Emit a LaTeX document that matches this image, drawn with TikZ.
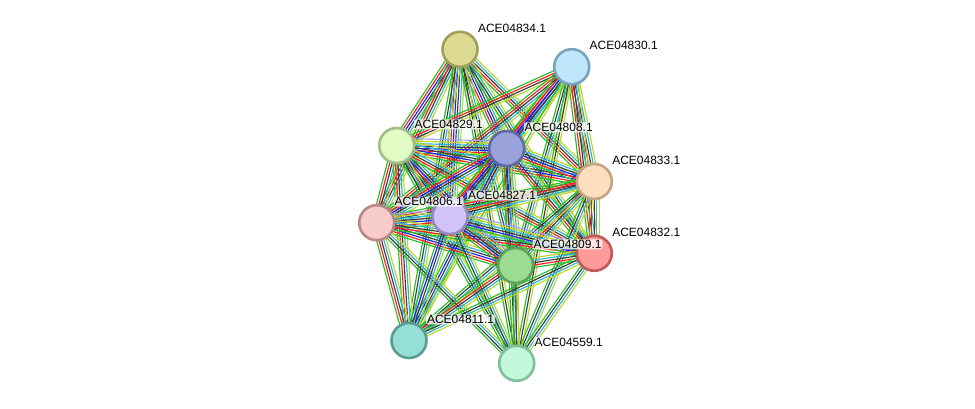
\documentclass[tikz,border=0pt]{standalone}
\usepackage{fontspec}
\setmainfont{Liberation Sans}
\usetikzlibrary{calc,backgrounds}
\pgfdeclarelayer{foreground}
\pgfsetlayers{background,main,foreground}
\definecolor{eG}{RGB}{40,190,40}
\definecolor{eR}{RGB}{250,30,30}
\definecolor{eB}{RGB}{30,30,250}
\definecolor{eK}{RGB}{60,60,60}
\definecolor{eC}{RGB}{45,180,215}
\definecolor{eY}{RGB}{190,214,40}
\definecolor{eL}{RGB}{170,160,240}
\definecolor{f34}{RGB}{221,219,146}\definecolor{d34}{RGB}{160,160,90}
\definecolor{f30}{RGB}{191,230,250}\definecolor{d30}{RGB}{120,164,192}
\definecolor{f29}{RGB}{224,252,196}\definecolor{d29}{RGB}{163,190,134}
\definecolor{f08}{RGB}{154,162,220}\definecolor{d08}{RGB}{95,105,163}
\definecolor{f33}{RGB}{253,223,192}\definecolor{d33}{RGB}{196,164,130}
\definecolor{f06}{RGB}{248,203,203}\definecolor{d06}{RGB}{186,134,134}
\definecolor{f27}{RGB}{209,195,248}\definecolor{d27}{RGB}{150,137,195}
\definecolor{f32}{RGB}{253,154,154}\definecolor{d32}{RGB}{192,90,90}
\definecolor{f09}{RGB}{154,220,145}\definecolor{d09}{RGB}{95,160,90}
\definecolor{f11}{RGB}{150,223,214}\definecolor{d11}{RGB}{90,156,148}
\definecolor{f59}{RGB}{195,248,219}\definecolor{d59}{RGB}{128,192,155}
\tikzset{
  prot/.style={circle, minimum size=35pt, inner sep=0pt, line width=2.6pt},
  lbl/.style={anchor=base west, inner sep=0.8pt, rounded corners=2pt,
    fill=white, fill opacity=0.75, text opacity=1,
    font=\fontsize{12pt}{14pt}\selectfont},
  evline/.style={line width=1.15pt}
}
\newcommand\sedge[3]{%
  \xdef\nn{0}%
  \foreach \c in {#3}{\xdef\nn{\the\numexpr\nn+1\relax}}%
  \foreach \c [count=\i] in {#3}{%
    \pgfmathsetmacro\off{(\i-(\nn+1)/2)*2.4}%
    \draw[evline, draw=\c] ($(#1.center)!\off pt!90:(#2.center)$) -- ($(#2.center)!\off pt!-90:(#1.center)$);
  }}
\newcommand\prot[3]{%
  \node[prot, fill=f#1, draw=d#1] (n#1) at (#2) {};
  \begin{pgfonlayer}{foreground}
  \node[lbl] (l#1) at ($(n#1.center)+(17,-17)$) {#3};
  \end{pgfonlayer}
}
\begin{document}
\begin{tikzpicture}[x=1pt,y=-1pt]
\useasboundingbox (0,0) rectangle (975,409);
\prot{34}{460,49.3}{ACE04834.1}
\prot{30}{571.7,66.7}{ACE04830.1}
\prot{29}{396.7,145.5}{ACE04829.1}
\prot{08}{506.7,148.5}{ACE04808.1}
\prot{33}{594.3,181.5}{ACE04833.1}
\prot{06}{376.7,222.7}{ACE04806.1}
\prot{27}{450,216.5}{ACE04827.1}
\prot{32}{594.3,253.3}{ACE04832.1}
\prot{09}{515.5,265.5}{ACE04809.1}
\prot{11}{409,340.5}{ACE04811.1}
\prot{59}{516.7,363.3}{ACE04559.1}
\begin{pgfonlayer}{background}
\fill[white] (0,0) rectangle (975,409);
\sedge{n34}{n29}{eG,eR,eB,eK,eC,eY}
\sedge{n34}{n08}{eG,eR,eB,eK,eC,eY}
\sedge{n34}{n33}{eG,eR,eK,eC,eY}
\sedge{n34}{n06}{eG,eR,eK,eC,eY}
\sedge{n34}{n27}{eG,eR,eB,eK,eC,eY}
\sedge{n34}{n09}{eG,eK,eC,eY}
\sedge{n34}{n32}{eG,eK,eC,eY}
\sedge{n34}{n11}{eG,eK,eC,eY}
\sedge{n34}{n59}{eG,eK,eY}
\sedge{n30}{n29}{eG,eR,eK,eY}
\sedge{n30}{n08}{eG,eR,eB,eK,eC,eY}
\sedge{n30}{n33}{eG,eR,eK,eC,eY}
\sedge{n30}{n06}{eG,eR,eK,eC,eY}
\sedge{n30}{n27}{eG,eR,eB,eK,eC,eY}
\sedge{n30}{n09}{eG,eK,eC,eY}
\sedge{n30}{n32}{eG,eR,eK,eC,eY}
\sedge{n30}{n11}{eG,eY}
\sedge{n30}{n59}{eG,eK,eY}
\sedge{n29}{n08}{eG,eR,eB,eK,eC,eY,eL}
\sedge{n29}{n33}{eG,eR,eB,eK,eC,eY}
\sedge{n29}{n06}{eG,eR,eK,eC,eY}
\sedge{n29}{n27}{eG,eR,eB,eK,eC,eY}
\sedge{n29}{n09}{eG,eR,eB,eK,eC,eY}
\sedge{n29}{n32}{eG,eR,eK,eC,eY}
\sedge{n29}{n11}{eG,eR,eK,eC,eY}
\sedge{n29}{n59}{eG,eK,eC,eY}
\sedge{n08}{n33}{eG,eR,eB,eK,eC,eY}
\sedge{n08}{n06}{eG,eR,eB,eK,eC,eY}
\sedge{n08}{n27}{eG,eR,eB,eK,eC,eY,eL}
\sedge{n08}{n09}{eG,eR,eB,eK,eC,eY}
\sedge{n08}{n32}{eG,eR,eK,eC,eY}
\sedge{n08}{n11}{eG,eB,eK,eC,eY}
\sedge{n08}{n59}{eG,eK,eC,eY}
\sedge{n33}{n06}{eG,eR,eK,eC,eY}
\sedge{n33}{n27}{eG,eR,eK,eC,eY}
\sedge{n33}{n09}{eG,eR,eK,eC,eY}
\sedge{n33}{n32}{eG,eR,eK,eC,eY}
\sedge{n33}{n11}{eG,eK,eC,eY}
\sedge{n33}{n59}{eG,eK,eC,eY}
\sedge{n06}{n27}{eG,eR,eB,eK,eC,eY,eL}
\sedge{n06}{n09}{eG,eR,eB,eK,eC,eY}
\sedge{n06}{n32}{eG,eR,eK,eC,eY}
\sedge{n06}{n11}{eG,eR,eK,eC,eY}
\sedge{n06}{n59}{eG,eK,eC,eY}
\sedge{n27}{n09}{eG,eR,eB,eK,eC,eY,eL}
\sedge{n27}{n32}{eG,eB,eK,eC,eY,eL}
\sedge{n27}{n11}{eG,eB,eK,eC,eY}
\sedge{n27}{n59}{eG,eK,eC,eY}
\sedge{n09}{n32}{eG,eR,eK,eC,eY}
\sedge{n09}{n11}{eG,eR,eK,eC,eY}
\sedge{n09}{n59}{eG,eK,eY}
\sedge{n32}{n11}{eG,eK,eC,eY}
\sedge{n32}{n59}{eG,eK,eC,eY}
\end{pgfonlayer}
\end{tikzpicture}
\end{document}
